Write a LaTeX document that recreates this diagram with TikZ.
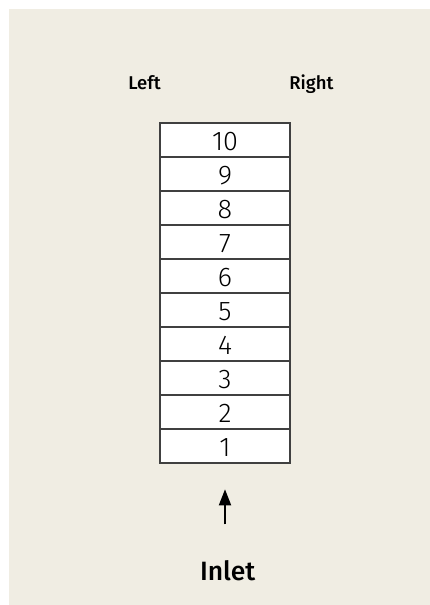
\documentclass[tikz,border=0pt]{standalone}
\usepackage{fontspec}
\setmainfont{Fira Sans}
\newfontfamily\medfont{Fira Sans Medium}
\newfontfamily\lightfont{Fira Sans Light}
\usetikzlibrary{arrows.meta}
\definecolor{bg}{RGB}{240,237,227}
\definecolor{edge}{RGB}{64,64,64}
\tikzset{
  cell/.style={draw=edge, fill=white, line width=1.8pt, minimum width=130pt, minimum height=34pt, inner sep=0pt},
  num/.style={font=\lightfont\fontsize{27}{27}\selectfont, inner sep=0pt, anchor=base},
  side/.style={font=\medfont\fontsize{18.5}{18.5}\selectfont, inner sep=0pt, anchor=base},
  inl/.style={font=\medfont\fontsize{26.5}{26.5}\selectfont, inner sep=0pt, anchor=base},
  flow/.style={draw=black, line width=1.8pt, -{Triangle[length=16pt,width=12pt]}}
}
\begin{document}
\begin{tikzpicture}[x=1pt,y=-1pt]
\useasboundingbox (0,0) rectangle (429,605);
\fill[white] (0,0) rectangle (429,605);
\fill[bg] (9,9) rectangle (430,606);
\node[side] (left) at (144.5,89) {Left};
\node[side] (right) at (311.5,89) {Right};
\foreach \n in {1,...,10} {
  \node[cell] (c\n) at (225,{462.7-17-34*(\n-1)}) {};
  \node[num] (t\n) at (225,{462.7-17-34*(\n-1)+10.3}) {\n};
}
\node[inl] (inlet) at (227.7,580) {Inlet};
\coordinate (tail) at (225,524.3);
\coordinate (head) at (225,489.3);
\draw[flow] (tail) -- (head);
\end{tikzpicture}
\end{document}
